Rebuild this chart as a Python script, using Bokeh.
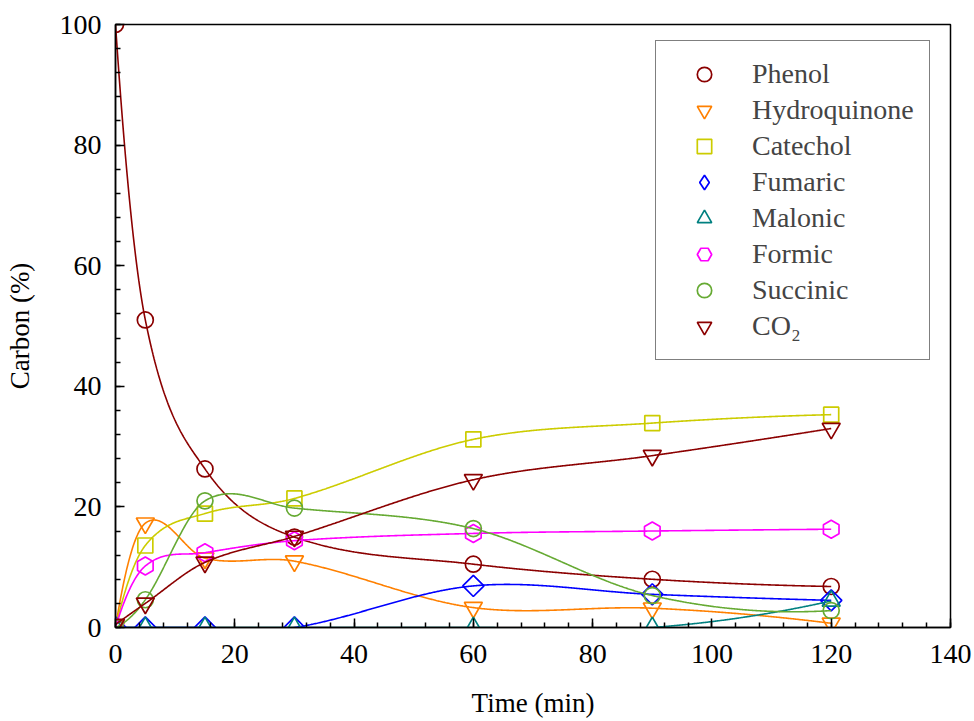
import numpy as np
from bokeh.plotting import figure
from bokeh.models import Range1d, FixedTicker, Legend, LegendItem
from bokeh.embed import file_html
from bokeh.resources import INLINE

# ---- data ----
time_min = [0, 5, 15, 30, 60, 90, 120]
phenol = [100, 51, 26.3, 15, 10.5, 8.0, 6.8]
hydroquinone = [0, 17.3, 11.5, 11.0, 3.3, 3.2, 0.7]
catechol = [0, 13.6, 18.9, 21.4, 31.2, 33.9, 35.3]
fumaric = [0, 0, 0, 0, 6.9, 5.5, 4.5]
malonic = [0, 0, 0, 0, 0, 0, 4.4]
formic = [0, 10.2, 12.4, 14.4, 15.6, 16.0, 16.3]
succinic = [0, 4.6, 21.0, 19.8, 16.4, 5.3, 2.8]
co2 = [0.5, 4.0, 10.8, 15.1, 24.5, 28.5, 33.0]

series_names = ["Phenol", "Hydroquinone", "Catechol", "Fumaric", "Malonic",
                "Formic", "Succinic", "CO\u2082"]
series_values = [phenol, hydroquinone, catechol, fumaric, malonic, formic,
                 succinic, co2]
x_ticks = [0, 20, 40, 60, 80, 100, 120, 140]
y_ticks = [0, 20, 40, 60, 80, 100]

colors = ["#8B0000", "#FF8000", "#CCCC00", "#0000FF", "#008080", "#FF00FF",
          "#66AA33", "#8B0000"]
markers = ["circle", "inverted_triangle", "square", "square", "triangle",
           "hex", "circle", "inverted_triangle"]
legend_markers = ["circle", "inverted_triangle", "square", "diamond",
                  "triangle", "hex", "circle", "inverted_triangle"]
angles = [0, 0, 0, np.pi / 4, 0, np.pi / 2, 0, 0]
sizes = [16, 18, 15, 15, 18, 18, 16, 18]

FONT = "Liberation Serif, Times New Roman, serif"


def cardinal_curve(x, y, xs):
    """Piecewise cubic Hermite curve through the points (Catmull-Rom tangents)."""
    x = np.asarray(x, float)
    y = np.asarray(y, float)
    n = len(x)
    s = np.diff(y) / np.diff(x)
    m = np.zeros(n)
    for i in range(1, n - 1):
        m[i] = (y[i + 1] - y[i - 1]) / (x[i + 1] - x[i - 1])
    m[0] = 2 * s[0] - m[1]
    m[-1] = 2 * s[-1] - m[-2]
    idx = np.clip(np.searchsorted(x, xs) - 1, 0, n - 2)
    h = x[idx + 1] - x[idx]
    t = (xs - x[idx]) / h
    h00 = 2 * t ** 3 - 3 * t ** 2 + 1
    h10 = t ** 3 - 2 * t ** 2 + t
    h01 = -2 * t ** 3 + 3 * t ** 2
    h11 = t ** 3 - t ** 2
    return (h00 * y[idx] + h10 * h * m[idx] + h01 * y[idx + 1]
            + h11 * h * m[idx + 1])


p = figure(width=974, height=721, output_backend="svg", toolbar_location=None,
           x_range=Range1d(0, 140), y_range=Range1d(0, 100),
           min_border_left=115, min_border_right=24, min_border_top=24,
           min_border_bottom=94, background_fill_color="white",
           border_fill_color="white")

p.xgrid.visible = False
p.ygrid.visible = False
p.outline_line_color = "black"
p.outline_line_width = 1.5

xs = np.linspace(time_min[0], time_min[-1], 800)
items = []
for name, vals, c, m, lm, ang, sz in zip(series_names, series_values, colors,
                                           markers, legend_markers, angles,
                                           sizes):
    ys = cardinal_curve(time_min, vals, xs)
    p.line(xs, ys, line_color=c, line_width=1.6)
    r = p.scatter(time_min, vals, marker=m, angle=ang, size=sz,
                  line_color=c, line_width=1.7, fill_alpha=0)
    if lm != m or ang != 0:
        # legend-only twin (legend glyphs are drawn unrotated)
        r = p.scatter(time_min, vals, marker=lm, size=sz, line_color=c,
                      line_width=1.7, fill_alpha=0, visible=False)
    items.append(LegendItem(label=name, renderers=[r]))

legend = Legend(items=items, location=(540, 267))
legend.click_policy = "none"
legend.inactive_fill_alpha = 0
legend.label_text_font = FONT
legend.label_text_font_size = "28px"
legend.glyph_width = 66
legend.glyph_height = 36
legend.label_height = 36
legend.spacing = 0
legend.padding = 15
legend.margin = 0
legend.label_standoff = 15
legend.border_line_color = "black"
legend.border_line_width = 1.2
legend.background_fill_color = "white"
legend.background_fill_alpha = 1
p.add_layout(legend)

p.xaxis.ticker = FixedTicker(ticks=x_ticks,
                             minor_ticks=list(np.arange(0, 141, 4)))
p.yaxis.ticker = FixedTicker(ticks=y_ticks,
                             minor_ticks=list(np.arange(0, 101, 4)))

for ax in (p.xaxis[0], p.yaxis[0]):
    ax.axis_line_color = "black"
    ax.axis_line_width = 1.5
    ax.major_tick_line_color = "black"
    ax.major_tick_line_width = 1.5
    ax.minor_tick_line_color = "black"
    ax.minor_tick_line_width = 1.5
    ax.major_tick_in = 9
    ax.major_tick_out = 0
    ax.minor_tick_in = 5
    ax.minor_tick_out = 0
    ax.major_label_text_font = FONT
    ax.major_label_text_font_size = "28px"
    ax.major_label_text_color = "black"
    ax.axis_label_text_font = FONT
    ax.axis_label_text_font_size = "27px"
    ax.axis_label_text_font_style = "normal"
    ax.axis_label_text_color = "black"

p.xaxis.axis_label = "Time (min)"
p.yaxis.axis_label = "Carbon (%)"
p.xaxis.major_label_standoff = 17
p.xaxis.axis_label_standoff = 22
p.yaxis.major_label_standoff = 14
p.yaxis.axis_label_standoff = 22

open("out.html", "w").write(file_html(p, INLINE))
